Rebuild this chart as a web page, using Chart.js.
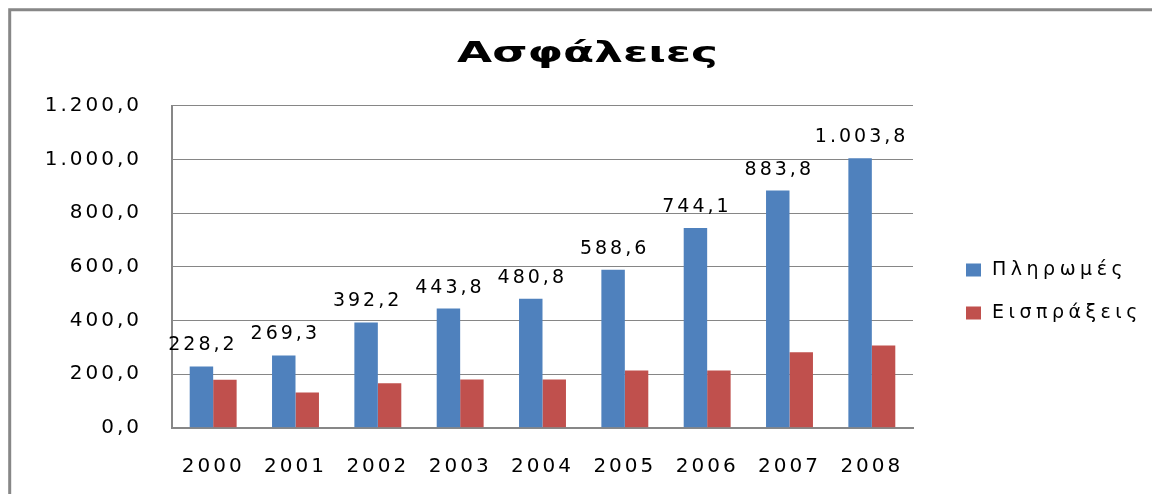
<!DOCTYPE html>
<html>
<head>
<meta charset="utf-8">
<script src="https://cdn.jsdelivr.net/npm/chart.js@4"></script>
<style>
  html, body { margin: 0; padding: 0; background: #fff; }
  #wrap { position: relative; width: 1152px; height: 494px; }
</style>
</head>
<body>
<div id="wrap"><canvas id="chart"></canvas></div>
<script>
// ---------- DATA ----------
const years = ['2000', '2001', '2002', '2003', '2004', '2005', '2006', '2007', '2008'];
const payments = [228.2, 269.3, 392.2, 443.8, 480.8, 588.6, 744.1, 883.8, 1003.8];
const receipts = [179, 131, 166, 180, 180, 213, 213, 281, 306];
const seriesNames = ['Πληρωμές', 'Εισπράξεις'];
const seriesColors = ['#4F81BD', '#C0504D'];
const chartTitle = 'Ασφάλειες';

// greek style number: 1.003,8
function fmt(v) {
	const [i, d] = v.toFixed(1).split('.');
	return i.replace(/\B(?=(\d{3})+(?!\d))/g, '.') + ',' + d;
}

// wide letter spacing like the excel render
const spacingPlugin = {
	id: 'spacing',
	beforeLayout(chart) { chart.ctx.letterSpacing = '3px'; },
	beforeDraw(chart) { chart.ctx.letterSpacing = '3px'; },
};

// ---------- FRAME + TITLE ----------
// title is centred on the whole canvas, not just the plot, so it is drawn here
const framePlugin = {
	id: 'frame',
	beforeDraw(chart) {
		const { ctx, width, height } = chart;
		ctx.save();
		ctx.strokeStyle = '#878787';
		ctx.lineWidth = 3;
		ctx.beginPath();
		ctx.moveTo(9.7, height);
		ctx.lineTo(9.7, 9.7);
		ctx.lineTo(width, 9.7);
		ctx.stroke();

		// the original title is a wide, stretched bold face
		ctx.letterSpacing = '0px';
		ctx.font = 'bold 28px "DejaVu Sans", sans-serif';
		const sx = 261 / ctx.measureText(chartTitle).width;
		ctx.fillStyle = '#000';
		ctx.textAlign = 'center';
		ctx.textBaseline = 'alphabetic';
		ctx.translate(587.5, 61.7);
		ctx.scale(sx, 1);
		ctx.fillText(chartTitle, 0, 0);
		ctx.restore();
	},
};

// ---------- VALUE LABELS ----------
const valueLabels = {
	id: 'valueLabels',
	afterDatasetsDraw(chart) {
		const { ctx } = chart;
		const meta = chart.getDatasetMeta(0);
		ctx.save();
		ctx.font = '19px "DejaVu Sans", sans-serif';
		ctx.fillStyle = '#000';
		ctx.textAlign = 'center';
		ctx.textBaseline = 'alphabetic';
		meta.data.forEach((bar, i) => {
			ctx.fillText(fmt(payments[i]), bar.x + 1.5, bar.y - 16);
		});
		ctx.restore();
	},
};

// ---------- LEGEND ----------
const sideLegend = {
	id: 'sideLegend',
	afterDraw(chart) {
		const { ctx } = chart;
		ctx.save();
		ctx.letterSpacing = '4.5px';
		ctx.font = '19px "DejaVu Sans", sans-serif';
		ctx.textBaseline = 'middle';
		ctx.textAlign = 'left';
		chart.data.datasets.forEach((ds, i) => {
			const y = 270 + i * 43;
			ctx.fillStyle = ds.backgroundColor;
			ctx.fillRect(966, y - 6.5, 15, 13);
			ctx.fillStyle = '#000';
			ctx.fillText(ds.label, 992, y);
		});
		ctx.restore();
	},
};

new Chart(document.getElementById('chart'), {
	type: 'bar',
	data: {
		labels: years,
		datasets: [
			{ label: seriesNames[0], data: payments, backgroundColor: seriesColors[0] },
			{ label: seriesNames[1], data: receipts, backgroundColor: seriesColors[1] },
		],
	},
	options: {
		responsive: true,
		maintainAspectRatio: false,
		animation: false,
		devicePixelRatio: 1,
		datasets: {
			bar: { categoryPercentage: 0.57, barPercentage: 1, borderWidth: 0 },
		},
		layout: { padding: { left: 0, right: 239, top: 105.7, bottom: 0 } },
		plugins: {
			legend: { display: false },
			tooltip: { enabled: false },
			title: { display: false },
		},
		scales: {
			x: {
				grid: { display: false },
				border: { color: '#878787', width: 2 },
				ticks: {
					color: '#000',
					padding: 19,
					font: { family: '"DejaVu Sans", sans-serif', size: 20 },
				},
				afterFit(scale) { scale.height = 66.3; },
			},
			y: {
				min: 0,
				max: 1200,
				grid: { color: '#868686', lineWidth: 1, drawTicks: false },
				border: { color: '#878787', width: 2 },
				ticks: {
					stepSize: 200,
					color: '#000',
					padding: 30,
					font: { family: '"DejaVu Sans", sans-serif', size: 20 },
					callback: (v) => fmt(v),
				},
				afterFit(scale) { scale.width = 172; },
			},
		},
	},
	plugins: [spacingPlugin, framePlugin, valueLabels, sideLegend],
});
</script>
</body>
</html>
